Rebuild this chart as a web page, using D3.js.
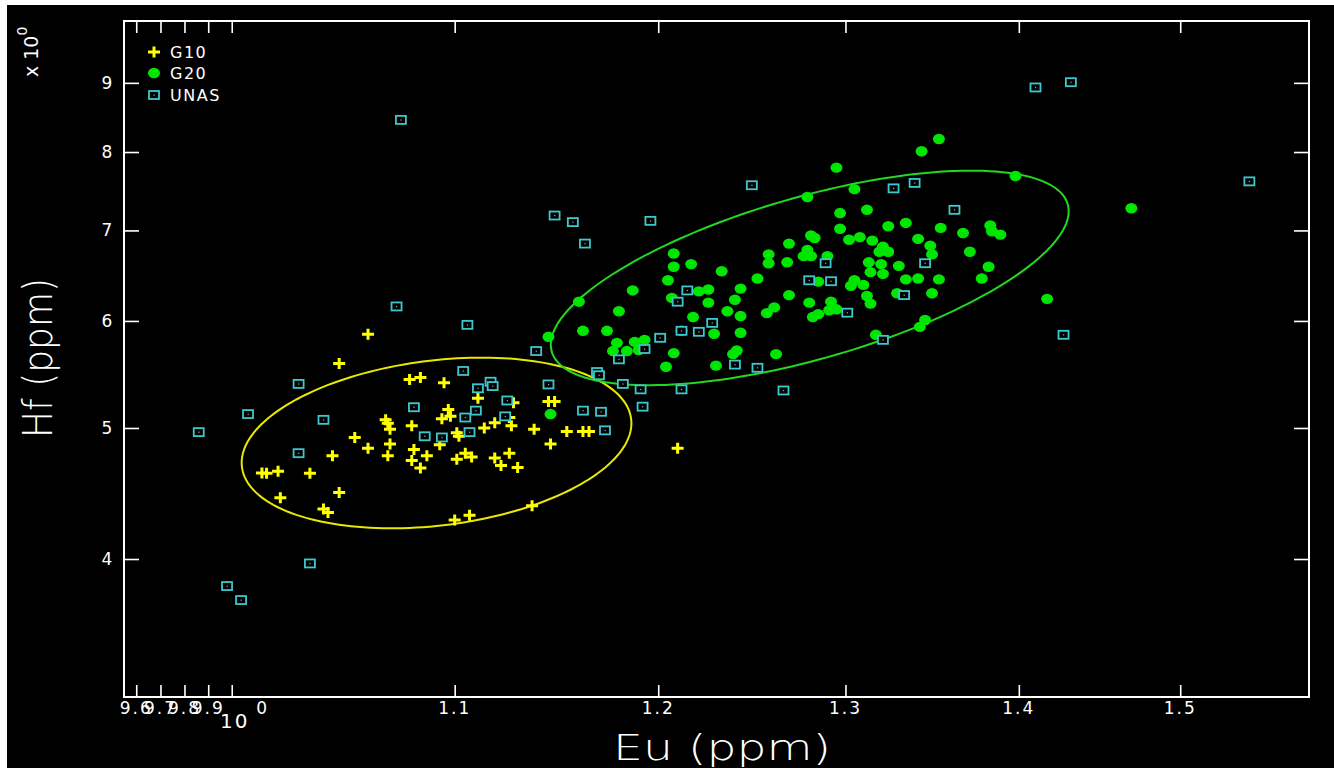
<!DOCTYPE html>
<html>
<head>
  <meta charset="utf-8">
  <title>Hf vs Eu</title>
  <script src="https://d3js.org/d3.v7.min.js"></script>
  <style>
    body { margin: 0; background: #fff; }
    text { font-family: "DejaVu Sans", sans-serif; font-weight: 200; fill: #fff; }
    text.lbl { font-weight: 400; }
  </style>
</head>
<body>
<script>
// ---- data (Eu ppm, Hf ppm) ----
var g10Eu = [1.060,1.047,1.079,1.084,1.095,1.111,1.097,1.098,1.094,1.069,1.068,1.070,1.080,1.054,1.060,1.070,1.069,1.081,1.080,1.084,
  1.087,1.093,1.101,1.102,1.105,1.108,1.101,1.044,1.034,1.020,1.015,1.013,1.047,1.021,1.040,1.042,1.100,1.107,1.128,1.126,
  1.127,1.114,1.119,1.145,1.148,1.138,1.154,1.162,1.165,1.146,1.119,1.126,1.122,1.130,1.210,1.137];
var g10Hf = [5.865,5.58,5.43,5.45,5.40,5.26,5.16,5.10,5.08,5.04,5.07,4.99,5.02,4.92,4.83,4.865,4.77,4.82,4.73,4.67,
  4.77,4.86,4.96,4.93,4.79,4.76,4.74,4.77,4.63,4.645,4.63,4.632,4.48,4.44,4.355,4.33,4.275,4.31,5.22,5.09,
  5.02,5.00,5.045,5.23,5.23,4.99,4.97,4.97,4.97,4.865,4.75,4.79,4.69,4.675,4.83,4.38];

var g20Eu = [1.208,1.208,1.217,1.205,1.187,1.207,1.221,1.160,1.180,1.218,1.162,1.174,1.145,1.212,1.179,1.188,1.193,1.177,1.184,1.190,
  1.208,1.204,1.146,1.343,1.295,1.279,1.305,1.297,1.312,1.297,1.324,1.334,1.354,1.367,1.383,1.384,1.389,1.281,1.283,1.269,
  1.302,1.308,1.315,1.321,1.319,1.324,1.341,1.348,1.349,1.371,1.258,1.258,1.268,1.279,1.277,1.281,1.290,1.313,1.320,1.330,
  1.314,1.321,1.382,1.378,1.353,1.341,1.334,1.233,1.252,1.285,1.243,1.226,1.305,1.303,1.310,1.240,1.226,1.269,1.280,1.292,
  1.312,1.314,1.329,1.349,1.236,1.243,1.257,1.261,1.291,1.295,1.282,1.285,1.229,1.243,1.241,1.239,1.262,1.230,1.317,1.345,
  1.342,1.398,1.469,1.417,1.353];
var g20Hf = [6.73,6.58,6.61,6.43,6.32,6.24,6.31,6.20,6.10,6.04,5.90,5.90,5.84,5.90,5.78,5.79,5.81,5.70,5.70,5.71,
  5.68,5.55,5.12,8.01,7.79,7.41,7.51,7.21,7.25,7.02,7.05,7.09,7.03,6.97,7.06,6.99,6.95,6.94,6.91,6.845,
  6.89,6.92,6.88,6.81,6.75,6.75,6.90,6.82,6.72,6.75,6.72,6.62,6.63,6.77,6.70,6.70,6.70,6.63,6.61,6.59,
  6.52,6.50,6.58,6.45,6.44,6.45,6.44,6.53,6.45,6.415,6.34,6.33,6.43,6.37,6.38,6.22,6.19,6.27,6.19,6.20,
  6.26,6.18,6.29,6.29,6.10,6.05,6.08,6.14,6.11,6.12,6.04,6.07,5.87,5.88,5.705,5.67,5.67,5.56,5.86,6.01,
  5.94,7.68,7.27,6.23,8.18];

var unasEu = [1.075,1.073,1.106,1.104,1.029,1.007,0.986,1.040,1.081,1.105,1.110,1.107,1.086,1.094,1.029,1.034,0.998,1.004,1.148,1.157,
  1.196,1.163,1.215,1.210,1.139,1.201,1.212,1.221,1.193,1.180,1.169,1.170,1.182,1.191,1.212,1.192,1.117,1.118,1.111,1.145,
  1.125,1.124,1.162,1.171,1.173,1.249,1.327,1.339,1.362,1.289,1.280,1.292,1.345,1.333,1.301,1.228,1.321,1.240,1.252,1.266,
  1.410,1.4315,1.545,1.427];
var unasHf = [8.45,6.15,5.96,5.51,5.39,5.12,4.965,5.07,5.18,5.09,5.15,4.965,4.93,4.92,4.79,3.97,3.82,3.73,7.18,7.10,
  7.115,6.845,6.32,6.20,5.70,5.83,5.90,5.89,5.72,5.62,5.50,5.47,5.39,5.34,5.34,5.185,5.41,5.37,5.35,5.385,
  5.24,5.10,5.15,5.14,4.98,7.56,7.52,7.59,7.25,6.62,6.43,6.42,6.62,6.27,6.085,5.98,5.81,5.57,5.54,5.33,
  8.93,9.01,7.61,5.86];

// group ellipses: centre (Eu, Hf) and conjugate semi-axes in ln units
var g10Ell = {eu: 1.0915, hf: 4.874, ax: 0.0833, ay: 0.0336, bx: 0, by: 0.1414};
var g20Ell = {eu: 1.2803, hf: 6.456, ax: 0.1107, ay: 0.1136, bx: 0, by: 0.1431};

var xTicks = [0.96, 0.97, 0.98, 0.99, 1.0, 1.1, 1.2, 1.3, 1.4, 1.5];
var xTickLabels = ["9.6", "9.7", "9.8", "9.9", "", "1.1", "1.2", "1.3", "1.4", "1.5"];
var yTicks = [4, 5, 6, 7, 8, 9];
var legendNames = ["G10", "G20", "UNAS"];

var W = 1334, H = 768;
var yellow = "#ffff00", green = "#00e600", cyan = "#3cc8cc";

var svg = d3.select("body").append("svg").attr("width", W).attr("height", H);
svg.append("rect").attr("x", 7).attr("y", 5).attr("width", W - 7).attr("height", H - 5).attr("fill", "#000");

// plot frame edges (note: "top" is a reserved window property, so use other names)
var pL = 124, pR = 1309, pT = 21, pB = 697;
var x = d3.scaleLog().domain([Math.pow(10, -0.02), Math.pow(10, 0.2)]).range([pL, pR]);
var y = d3.scaleLog().domain([Math.sqrt(10), 10]).range([pB, pT]);

/* frame + ticks */
svg.append("rect").attr("x", pL).attr("y", pT).attr("width", pR - pL).attr("height", pB - pT)
  .attr("fill", "none").attr("stroke", "#fff").attr("stroke-width", 2);

svg.append("g").attr("transform", "translate(0," + pB + ")")
  .call(d3.axisTop(x).tickValues(xTicks).tickSize(12).tickFormat(""));
svg.append("g").attr("transform", "translate(0," + pT + ")")
  .call(d3.axisBottom(x).tickValues(xTicks).tickSize(12).tickFormat(""));
svg.append("g").attr("transform", "translate(" + pL + ",0)")
  .call(d3.axisRight(y).tickValues(yTicks).tickSize(15).tickFormat(""));
svg.append("g").attr("transform", "translate(" + pR + ",0)")
  .call(d3.axisLeft(y).tickValues(yTicks).tickSize(15).tickFormat(""));
svg.selectAll(".domain").remove();
svg.selectAll(".tick line").attr("stroke", "#fff").attr("stroke-width", 1.6);

svg.append("g").selectAll("text").data(xTicks).enter().append("text").attr("class", "lbl")
  .attr("x", function(d) { return x(d); }).attr("y", 714)
  .attr("text-anchor", "middle").attr("font-size", 17).attr("letter-spacing", 2)
  .text(function(d, i) { return xTickLabels[i]; });
// the mangled 1.0 label
svg.append("text").attr("class", "lbl").attr("x", x(1.0) + 3).attr("y", 728).attr("text-anchor", "middle")
  .attr("font-size", 20).attr("letter-spacing", 2).text("10");
svg.append("text").attr("class", "lbl").attr("x", x(1.0) + 30).attr("y", 714).attr("text-anchor", "middle")
  .attr("font-size", 17).text("0");

svg.append("g").selectAll("text").data(yTicks).enter().append("text").attr("class", "lbl")
  .attr("x", 107).attr("y", function(d) { return y(d) + 6; })
  .attr("text-anchor", "middle").attr("font-size", 17).text(function(d) { return d; });

// exponent note, rotated
var ex = svg.append("text").attr("class", "lbl").attr("transform", "translate(38,77) rotate(-90)").attr("font-size", 19);
ex.append("tspan").text("x 10");
ex.append("tspan").attr("dy", -11).attr("font-size", 14).text("0");

// axis titles
svg.append("text").attr("x", 722).attr("y", 760).attr("text-anchor", "middle")
  .attr("font-size", 36).attr("textLength", 218).attr("lengthAdjust", "spacingAndGlyphs").text("Eu (ppm)");
svg.append("text").attr("transform", "translate(52,358) rotate(-90)").attr("text-anchor", "middle")
  .attr("font-size", 40).attr("textLength", 160).attr("lengthAdjust", "spacingAndGlyphs").text("Hf (ppm)");

/* ellipses (drawn in log space) */
function ellipsePts(e) {
  var pts = [];
  for (var i = 0; i < 180; i++) {
    var t = i / 180 * 2 * Math.PI;
    var lx = Math.log(e.eu) + e.ax * Math.cos(t) + e.bx * Math.sin(t);
    var lyv = Math.log(e.hf) + e.ay * Math.cos(t) + e.by * Math.sin(t);
    pts.push([Math.exp(lx), Math.exp(lyv)]);
  }
  return pts;
}
var ell = d3.line().x(function(d) { return x(d[0]); }).y(function(d) { return y(d[1]); }).curve(d3.curveLinearClosed);
svg.append("path").attr("d", ell(ellipsePts(g10Ell))).attr("fill", "none").attr("stroke", "#e8e800").attr("stroke-width", 2);
svg.append("path").attr("d", ell(ellipsePts(g20Ell))).attr("fill", "none").attr("stroke", "#22d822").attr("stroke-width", 2);

/* markers */
function cross(g, cx, cy) {
  g.append("path").attr("d", "M" + (cx - 6) + "," + cy + "H" + (cx + 6) + "M" + cx + "," + (cy - 5.5) + "V" + (cy + 5.5))
    .attr("stroke", yellow).attr("stroke-width", 3).attr("fill", "none");
}
function dot(g, cx, cy) {
  g.append("ellipse").attr("cx", cx).attr("cy", cy).attr("rx", 6).attr("ry", 5.2).attr("fill", green);
}
function box(g, cx, cy) {
  g.append("rect").attr("x", cx - 5).attr("y", cy - 4).attr("width", 10).attr("height", 8)
    .attr("fill", "#000").attr("stroke", cyan).attr("stroke-width", 1.8);
  g.append("rect").attr("x", cx - 0.5).attr("y", cy - 0.5).attr("width", 1.2).attr("height", 1.2).attr("fill", "#aaa");
}

var gG20 = svg.append("g");
g20Eu.forEach(function(v, i) { dot(gG20, x(v), y(g20Hf[i])); });
var gG10 = svg.append("g");
g10Eu.forEach(function(v, i) { cross(gG10, x(v), y(g10Hf[i])); });
var gU = svg.append("g");
unasEu.forEach(function(v, i) { box(gU, x(v), y(unasHf[i])); });

/* legend */
var lg = svg.append("g");
var rows = [52, 73, 95];
cross(lg, 154, rows[0]); dot(lg, 154, rows[1]); box(lg, 154, rows[2]);
lg.selectAll("text").data(legendNames).enter().append("text").attr("class", "lbl")
  .attr("x", 170).attr("y", function(d, i) { return rows[i] + 6; })
  .attr("font-size", 16).attr("letter-spacing", 1.5).text(function(d) { return d; });
</script>
</body>
</html>
